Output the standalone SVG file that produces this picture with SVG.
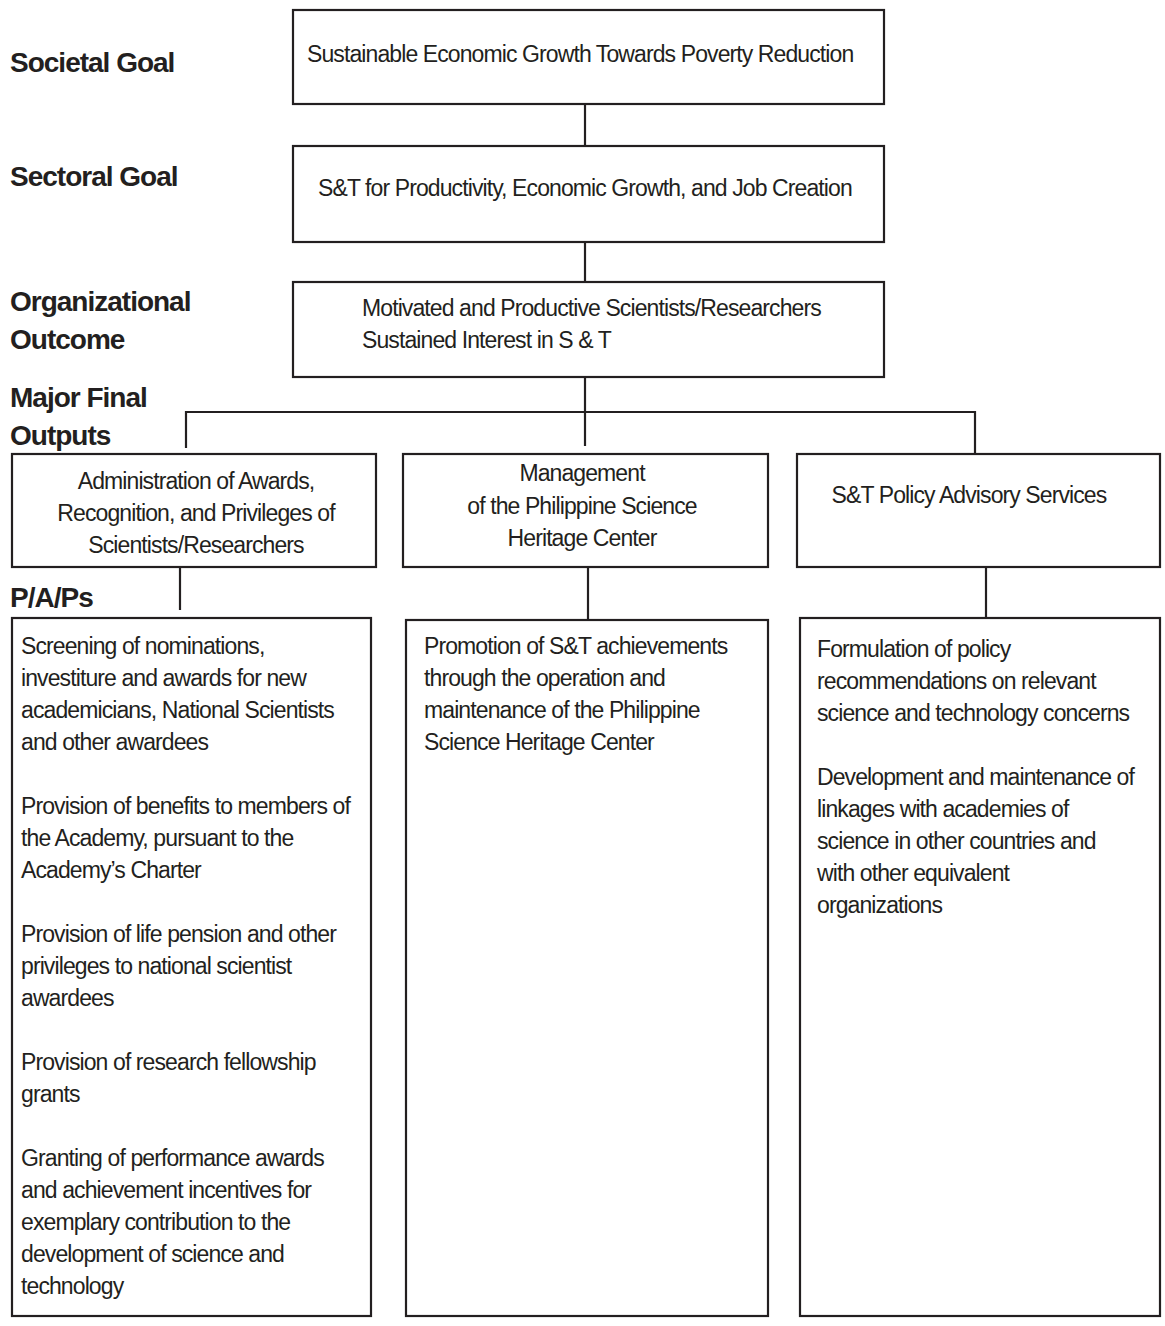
<svg xmlns="http://www.w3.org/2000/svg" width="1165" height="1326" viewBox="0 0 1165 1326">
<style>
.box{fill:#fff;stroke:#231f20;stroke-width:2.2}
.ln{stroke:#231f20;stroke-width:2.2;fill:none}
.t{font-family:"Liberation Sans",Arial,sans-serif;font-size:23px;fill:#231f20;letter-spacing:-0.9px}
.c{text-anchor:middle}
.lbl{font-family:"Liberation Sans",Arial,sans-serif;font-size:28px;font-weight:bold;fill:#231f20;letter-spacing:-1px}
</style>
<rect width="1165" height="1326" fill="#fff"/>
<g id="labels">
<text class="lbl" x="10" y="72">Societal Goal</text>
<text class="lbl" x="10" y="186">Sectoral Goal</text>
<text class="lbl" x="10" y="311">Organizational</text>
<text class="lbl" x="10" y="349">Outcome</text>
<text class="lbl" x="10" y="407">Major Final</text>
<text class="lbl" x="10" y="445">Outputs</text>
<text class="lbl" x="10" y="607">P/A/Ps</text>
</g>
<g id="connectors">
<line class="ln" x1="585" y1="104" x2="585" y2="146"/>
<line class="ln" x1="585" y1="242" x2="585" y2="282"/>
<line class="ln" x1="585" y1="377" x2="585" y2="446"/>
<line class="ln" x1="186" y1="412" x2="975" y2="412"/>
<line class="ln" x1="186" y1="411" x2="186" y2="448"/>
<line class="ln" x1="975" y1="411" x2="975" y2="454"/>
<line class="ln" x1="180" y1="567" x2="180" y2="610"/>
<line class="ln" x1="588" y1="567" x2="588" y2="619"/>
<line class="ln" x1="986" y1="565" x2="986" y2="617"/>
</g>
<g id="societal">
<rect class="box" x="293" y="10" width="591" height="94"/>
<text class="t" x="307" y="62">Sustainable Economic Growth Towards Poverty Reduction</text>
</g>
<g id="sectoral">
<rect class="box" x="293" y="146" width="591" height="96"/>
<text class="t" x="318" y="196">S&amp;T for Productivity, Economic Growth, and Job Creation</text>
</g>
<g id="outcome">
<rect class="box" x="293" y="282" width="591" height="95"/>
<text class="t" x="362" y="316">Motivated and Productive Scientists/Researchers</text>
<text class="t" x="362" y="348">Sustained Interest in S &amp; T</text>
</g>
<g id="mfo1">
<rect class="box" x="12" y="454" width="364" height="113"/>
<text class="t c" x="196" y="489">Administration of Awards,</text>
<text class="t c" x="196" y="521">Recognition, and  Privileges of</text>
<text class="t c" x="196" y="553">Scientists/Researchers</text>
</g>
<g id="mfo2">
<rect class="box" x="403" y="454" width="365" height="113"/>
<text class="t c" x="582" y="481">Management</text>
<text class="t c" x="582" y="514">of the Philippine Science</text>
<text class="t c" x="582" y="546">Heritage Center</text>
</g>
<g id="mfo3">
<rect class="box" x="797" y="454" width="363" height="113"/>
<text class="t c" x="969" y="503">S&amp;T Policy Advisory Services</text>
</g>
<g id="pap1">
<rect class="box" x="12" y="618" width="359" height="698"/>
<text class="t" x="21" y="654">Screening of nominations,</text>
<text class="t" x="21" y="686">investiture and awards for new</text>
<text class="t" x="21" y="718">academicians, National Scientists</text>
<text class="t" x="21" y="750">and other awardees</text>
<text class="t" x="21" y="814">Provision of benefits to members of</text>
<text class="t" x="21" y="846">the Academy, pursuant to the</text>
<text class="t" x="21" y="878">Academy’s Charter</text>
<text class="t" x="21" y="942">Provision of life pension and other</text>
<text class="t" x="21" y="974">privileges to national scientist</text>
<text class="t" x="21" y="1006">awardees</text>
<text class="t" x="21" y="1070">Provision of research fellowship</text>
<text class="t" x="21" y="1102">grants</text>
<text class="t" x="21" y="1166">Granting of performance awards</text>
<text class="t" x="21" y="1198">and achievement incentives for</text>
<text class="t" x="21" y="1230">exemplary contribution to the</text>
<text class="t" x="21" y="1262">development of science and</text>
<text class="t" x="21" y="1294">technology</text>
</g>
<g id="pap2">
<rect class="box" x="406" y="620" width="362" height="696"/>
<text class="t" x="424" y="654">Promotion of S&amp;T achievements</text>
<text class="t" x="424" y="686">through the operation and</text>
<text class="t" x="424" y="718">maintenance of the Philippine</text>
<text class="t" x="424" y="750">Science Heritage Center</text>
</g>
<g id="pap3">
<rect class="box" x="800" y="618" width="360" height="698"/>
<text class="t" x="817" y="657">Formulation of policy</text>
<text class="t" x="817" y="689">recommendations on relevant</text>
<text class="t" x="817" y="721">science and technology concerns</text>
<text class="t" x="817" y="785">Development and maintenance of</text>
<text class="t" x="817" y="817">linkages with academies of</text>
<text class="t" x="817" y="849">science in other countries and</text>
<text class="t" x="817" y="881">with other equivalent</text>
<text class="t" x="817" y="913">organizations</text>
</g>
</svg>
